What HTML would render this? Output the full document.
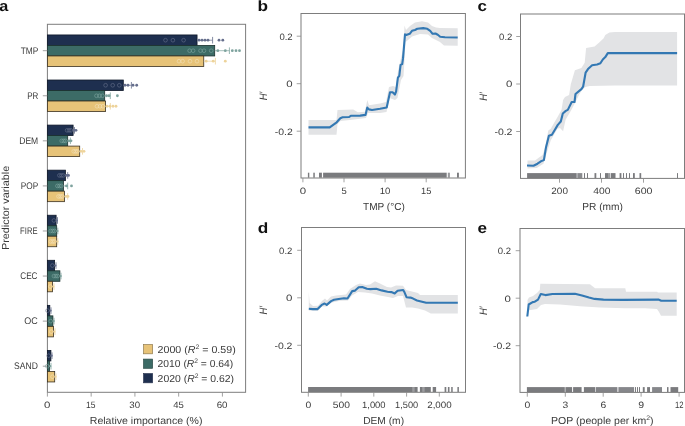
<!DOCTYPE html>
<html><head><meta charset="utf-8"><style>
html,body{margin:0;padding:0;background:#fff;}
svg{display:block;font-family:"Liberation Sans", sans-serif;will-change:transform;text-rendering:geometricPrecision;}
</style></head><body>
<svg width="685" height="426" viewBox="0 0 685 426">
<rect width="685" height="426" fill="#fff"/>
<rect x="47.4" y="24.3" width="198.20" height="368.00" fill="none" stroke="#7d7d7d" stroke-width="1"/>
<rect x="47.40" y="34.95" width="149.65" height="10.50" fill="#1e2f4f" stroke="#0f1829" stroke-width="0.8"/>
<rect x="47.40" y="45.45" width="167.30" height="10.50" fill="#3c6b66" stroke="#1a302d" stroke-width="0.8"/>
<rect x="47.40" y="55.95" width="156.35" height="10.50" fill="#e7c378" stroke="#3a3020" stroke-width="0.8"/>
<line x1="42.80" y1="50.70" x2="47.40" y2="50.70" stroke="#8a8a8a" stroke-width="0.8"/>
<text x="20.73" y="53.80" font-size="9.6" fill="#3a3a3a" textLength="17.59" lengthAdjust="spacingAndGlyphs">TMP</text>
<rect x="47.40" y="80.02" width="75.90" height="10.50" fill="#1e2f4f" stroke="#0f1829" stroke-width="0.8"/>
<rect x="47.40" y="90.52" width="57.30" height="10.50" fill="#3c6b66" stroke="#1a302d" stroke-width="0.8"/>
<rect x="47.40" y="101.02" width="58.20" height="10.50" fill="#e7c378" stroke="#3a3020" stroke-width="0.8"/>
<line x1="42.80" y1="95.77" x2="47.40" y2="95.77" stroke="#8a8a8a" stroke-width="0.8"/>
<text x="27.16" y="98.87" font-size="9.6" fill="#3a3a3a" textLength="11.14" lengthAdjust="spacingAndGlyphs">PR</text>
<rect x="47.40" y="125.09" width="25.70" height="10.50" fill="#1e2f4f" stroke="#0f1829" stroke-width="0.8"/>
<rect x="47.40" y="135.59" width="20.30" height="10.50" fill="#3c6b66" stroke="#1a302d" stroke-width="0.8"/>
<rect x="47.40" y="146.09" width="32.30" height="10.50" fill="#e7c378" stroke="#3a3020" stroke-width="0.8"/>
<line x1="42.80" y1="140.84" x2="47.40" y2="140.84" stroke="#8a8a8a" stroke-width="0.8"/>
<text x="19.22" y="143.94" font-size="9.6" fill="#3a3a3a" textLength="18.99" lengthAdjust="spacingAndGlyphs">DEM</text>
<rect x="47.40" y="170.16" width="18.00" height="10.50" fill="#1e2f4f" stroke="#0f1829" stroke-width="0.8"/>
<rect x="47.40" y="180.66" width="16.00" height="10.50" fill="#3c6b66" stroke="#1a302d" stroke-width="0.8"/>
<rect x="47.40" y="191.16" width="17.10" height="10.50" fill="#e7c378" stroke="#3a3020" stroke-width="0.8"/>
<line x1="42.80" y1="185.91" x2="47.40" y2="185.91" stroke="#8a8a8a" stroke-width="0.8"/>
<text x="20.84" y="189.01" font-size="9.6" fill="#3a3a3a" textLength="17.49" lengthAdjust="spacingAndGlyphs">POP</text>
<rect x="47.40" y="215.23" width="8.70" height="10.50" fill="#1e2f4f" stroke="#0f1829" stroke-width="0.8"/>
<rect x="47.40" y="225.73" width="9.30" height="10.50" fill="#3c6b66" stroke="#1a302d" stroke-width="0.8"/>
<rect x="47.40" y="236.23" width="9.30" height="10.50" fill="#e7c378" stroke="#3a3020" stroke-width="0.8"/>
<line x1="42.80" y1="230.98" x2="47.40" y2="230.98" stroke="#8a8a8a" stroke-width="0.8"/>
<text x="20.09" y="234.08" font-size="9.6" fill="#3a3a3a" textLength="17.44" lengthAdjust="spacingAndGlyphs">FIRE</text>
<rect x="47.40" y="260.30" width="7.20" height="10.50" fill="#1e2f4f" stroke="#0f1829" stroke-width="0.8"/>
<rect x="47.40" y="270.80" width="12.50" height="10.50" fill="#3c6b66" stroke="#1a302d" stroke-width="0.8"/>
<rect x="47.40" y="281.30" width="5.10" height="10.50" fill="#e7c378" stroke="#3a3020" stroke-width="0.8"/>
<line x1="42.80" y1="276.05" x2="47.40" y2="276.05" stroke="#8a8a8a" stroke-width="0.8"/>
<text x="20.29" y="279.15" font-size="9.6" fill="#3a3a3a" textLength="17.20" lengthAdjust="spacingAndGlyphs">CEC</text>
<rect x="47.40" y="305.37" width="2.40" height="10.50" fill="#1e2f4f" stroke="#0f1829" stroke-width="0.8"/>
<rect x="47.40" y="315.87" width="5.50" height="10.50" fill="#3c6b66" stroke="#1a302d" stroke-width="0.8"/>
<rect x="47.40" y="326.37" width="6.10" height="10.50" fill="#e7c378" stroke="#3a3020" stroke-width="0.8"/>
<line x1="42.80" y1="321.12" x2="47.40" y2="321.12" stroke="#8a8a8a" stroke-width="0.8"/>
<text x="24.29" y="324.22" font-size="9.6" fill="#3a3a3a" textLength="13.52" lengthAdjust="spacingAndGlyphs">OC</text>
<rect x="47.40" y="350.44" width="3.50" height="10.50" fill="#1e2f4f" stroke="#0f1829" stroke-width="0.8"/>
<rect x="47.40" y="360.94" width="2.00" height="10.50" fill="#3c6b66" stroke="#1a302d" stroke-width="0.8"/>
<rect x="47.40" y="371.44" width="7.30" height="10.50" fill="#e7c378" stroke="#3a3020" stroke-width="0.8"/>
<line x1="42.80" y1="366.19" x2="47.40" y2="366.19" stroke="#8a8a8a" stroke-width="0.8"/>
<text x="14.11" y="369.29" font-size="9.6" fill="#3a3a3a" textLength="23.80" lengthAdjust="spacingAndGlyphs">SAND</text>
<line x1="197.05" y1="40.20" x2="212.60" y2="40.20" stroke="#656e8c" stroke-width="0.7"/>
<line x1="212.60" y1="36.90" x2="212.60" y2="43.50" stroke="#656e8c" stroke-width="0.8"/>
<circle cx="165.50" cy="40.20" r="1.85" fill="none" stroke="#66718b" stroke-width="0.6"/>
<circle cx="172.90" cy="40.20" r="1.85" fill="none" stroke="#66718b" stroke-width="0.6"/>
<circle cx="183.60" cy="40.20" r="1.85" fill="none" stroke="#66718b" stroke-width="0.6"/>
<circle cx="199.00" cy="40.20" r="1.4" fill="#656e8c"/>
<circle cx="202.00" cy="40.20" r="1.4" fill="#656e8c"/>
<circle cx="205.00" cy="40.20" r="1.4" fill="#656e8c"/>
<circle cx="208.00" cy="40.20" r="1.4" fill="#656e8c"/>
<circle cx="219.00" cy="40.20" r="1.4" fill="#656e8c"/>
<circle cx="222.80" cy="40.20" r="1.4" fill="#656e8c"/>
<line x1="214.70" y1="50.70" x2="229.40" y2="50.70" stroke="#7ea39e" stroke-width="0.7"/>
<line x1="229.40" y1="47.40" x2="229.40" y2="54.00" stroke="#7ea39e" stroke-width="0.8"/>
<circle cx="189.60" cy="50.70" r="1.85" fill="none" stroke="#7ea59f" stroke-width="0.6"/>
<circle cx="193.10" cy="50.70" r="1.85" fill="none" stroke="#7ea59f" stroke-width="0.6"/>
<circle cx="200.50" cy="50.70" r="1.85" fill="none" stroke="#7ea59f" stroke-width="0.6"/>
<circle cx="204.00" cy="50.70" r="1.85" fill="none" stroke="#7ea59f" stroke-width="0.6"/>
<circle cx="211.20" cy="50.70" r="1.85" fill="none" stroke="#7ea59f" stroke-width="0.6"/>
<circle cx="217.80" cy="50.70" r="1.4" fill="#7ea39e"/>
<circle cx="225.30" cy="50.70" r="1.4" fill="#7ea39e"/>
<circle cx="232.30" cy="50.70" r="1.4" fill="#7ea39e"/>
<circle cx="236.00" cy="50.70" r="1.4" fill="#7ea39e"/>
<circle cx="239.50" cy="50.70" r="1.4" fill="#7ea39e"/>
<line x1="203.75" y1="61.20" x2="215.40" y2="61.20" stroke="#edd39a" stroke-width="0.7"/>
<line x1="215.40" y1="57.90" x2="215.40" y2="64.50" stroke="#edd39a" stroke-width="0.8"/>
<circle cx="179.00" cy="61.20" r="1.85" fill="none" stroke="#f3e0b8" stroke-width="0.6"/>
<circle cx="182.60" cy="61.20" r="1.85" fill="none" stroke="#f3e0b8" stroke-width="0.6"/>
<circle cx="190.00" cy="61.20" r="1.85" fill="none" stroke="#f3e0b8" stroke-width="0.6"/>
<circle cx="197.00" cy="61.20" r="1.85" fill="none" stroke="#f3e0b8" stroke-width="0.6"/>
<circle cx="206.20" cy="61.20" r="1.4" fill="#edd39a"/>
<circle cx="213.20" cy="61.20" r="1.4" fill="#edd39a"/>
<circle cx="225.30" cy="61.20" r="1.4" fill="#edd39a"/>
<line x1="123.30" y1="85.27" x2="131.40" y2="85.27" stroke="#656e8c" stroke-width="0.7"/>
<line x1="131.40" y1="81.97" x2="131.40" y2="88.57" stroke="#656e8c" stroke-width="0.8"/>
<circle cx="105.60" cy="85.27" r="1.85" fill="none" stroke="#66718b" stroke-width="0.6"/>
<circle cx="112.70" cy="85.27" r="1.85" fill="none" stroke="#66718b" stroke-width="0.6"/>
<circle cx="119.30" cy="85.27" r="1.85" fill="none" stroke="#66718b" stroke-width="0.6"/>
<circle cx="125.00" cy="85.27" r="1.4" fill="#656e8c"/>
<circle cx="128.00" cy="85.27" r="1.4" fill="#656e8c"/>
<circle cx="133.00" cy="85.27" r="1.4" fill="#656e8c"/>
<circle cx="136.70" cy="85.27" r="1.4" fill="#656e8c"/>
<line x1="104.70" y1="95.77" x2="110.30" y2="95.77" stroke="#7ea39e" stroke-width="0.7"/>
<line x1="110.30" y1="92.47" x2="110.30" y2="99.07" stroke="#7ea39e" stroke-width="0.8"/>
<circle cx="96.50" cy="95.77" r="1.85" fill="none" stroke="#7ea59f" stroke-width="0.6"/>
<circle cx="99.50" cy="95.77" r="1.85" fill="none" stroke="#7ea59f" stroke-width="0.6"/>
<circle cx="102.50" cy="95.77" r="1.85" fill="none" stroke="#7ea59f" stroke-width="0.6"/>
<circle cx="106.50" cy="95.77" r="1.4" fill="#7ea39e"/>
<circle cx="109.00" cy="95.77" r="1.4" fill="#7ea39e"/>
<circle cx="117.40" cy="95.77" r="1.4" fill="#7ea39e"/>
<line x1="105.60" y1="106.27" x2="110.30" y2="106.27" stroke="#edd39a" stroke-width="0.7"/>
<line x1="110.30" y1="102.97" x2="110.30" y2="109.57" stroke="#edd39a" stroke-width="0.8"/>
<circle cx="97.00" cy="106.27" r="1.85" fill="none" stroke="#f3e0b8" stroke-width="0.6"/>
<circle cx="100.00" cy="106.27" r="1.85" fill="none" stroke="#f3e0b8" stroke-width="0.6"/>
<circle cx="103.00" cy="106.27" r="1.85" fill="none" stroke="#f3e0b8" stroke-width="0.6"/>
<circle cx="107.00" cy="106.27" r="1.4" fill="#edd39a"/>
<circle cx="110.00" cy="106.27" r="1.4" fill="#edd39a"/>
<circle cx="113.00" cy="106.27" r="1.4" fill="#edd39a"/>
<circle cx="116.00" cy="106.27" r="1.4" fill="#edd39a"/>
<line x1="73.10" y1="130.34" x2="74.50" y2="130.34" stroke="#656e8c" stroke-width="0.7"/>
<line x1="74.50" y1="127.04" x2="74.50" y2="133.64" stroke="#656e8c" stroke-width="0.8"/>
<circle cx="67.10" cy="130.34" r="1.85" fill="none" stroke="#66718b" stroke-width="0.6"/>
<circle cx="69.10" cy="130.34" r="1.85" fill="none" stroke="#66718b" stroke-width="0.6"/>
<circle cx="70.90" cy="130.34" r="1.85" fill="none" stroke="#66718b" stroke-width="0.6"/>
<circle cx="74.00" cy="130.34" r="1.4" fill="#656e8c"/>
<circle cx="76.00" cy="130.34" r="1.4" fill="#656e8c"/>
<line x1="67.70" y1="140.84" x2="70.40" y2="140.84" stroke="#7ea39e" stroke-width="0.7"/>
<line x1="70.40" y1="137.54" x2="70.40" y2="144.14" stroke="#7ea39e" stroke-width="0.8"/>
<circle cx="61.70" cy="140.84" r="1.85" fill="none" stroke="#7ea59f" stroke-width="0.6"/>
<circle cx="63.70" cy="140.84" r="1.85" fill="none" stroke="#7ea59f" stroke-width="0.6"/>
<circle cx="65.50" cy="140.84" r="1.85" fill="none" stroke="#7ea59f" stroke-width="0.6"/>
<circle cx="69.00" cy="140.84" r="1.4" fill="#7ea39e"/>
<circle cx="71.00" cy="140.84" r="1.4" fill="#7ea39e"/>
<line x1="79.70" y1="151.34" x2="82.50" y2="151.34" stroke="#edd39a" stroke-width="0.7"/>
<line x1="82.50" y1="148.04" x2="82.50" y2="154.64" stroke="#edd39a" stroke-width="0.8"/>
<circle cx="73.70" cy="151.34" r="1.85" fill="none" stroke="#f3e0b8" stroke-width="0.6"/>
<circle cx="75.70" cy="151.34" r="1.85" fill="none" stroke="#f3e0b8" stroke-width="0.6"/>
<circle cx="77.50" cy="151.34" r="1.85" fill="none" stroke="#f3e0b8" stroke-width="0.6"/>
<circle cx="81.00" cy="151.34" r="1.4" fill="#edd39a"/>
<circle cx="84.00" cy="151.34" r="1.4" fill="#edd39a"/>
<line x1="65.40" y1="175.41" x2="67.70" y2="175.41" stroke="#656e8c" stroke-width="0.7"/>
<line x1="67.70" y1="172.11" x2="67.70" y2="178.71" stroke="#656e8c" stroke-width="0.8"/>
<circle cx="59.40" cy="175.41" r="1.85" fill="none" stroke="#66718b" stroke-width="0.6"/>
<circle cx="61.40" cy="175.41" r="1.85" fill="none" stroke="#66718b" stroke-width="0.6"/>
<circle cx="63.20" cy="175.41" r="1.85" fill="none" stroke="#66718b" stroke-width="0.6"/>
<circle cx="66.50" cy="175.41" r="1.4" fill="#656e8c"/>
<circle cx="68.50" cy="175.41" r="1.4" fill="#656e8c"/>
<line x1="63.40" y1="185.91" x2="67.70" y2="185.91" stroke="#7ea39e" stroke-width="0.7"/>
<line x1="67.70" y1="182.61" x2="67.70" y2="189.21" stroke="#7ea39e" stroke-width="0.8"/>
<circle cx="57.40" cy="185.91" r="1.85" fill="none" stroke="#7ea59f" stroke-width="0.6"/>
<circle cx="59.40" cy="185.91" r="1.85" fill="none" stroke="#7ea59f" stroke-width="0.6"/>
<circle cx="61.20" cy="185.91" r="1.85" fill="none" stroke="#7ea59f" stroke-width="0.6"/>
<circle cx="66.50" cy="185.91" r="1.4" fill="#7ea39e"/>
<circle cx="71.50" cy="185.91" r="1.4" fill="#7ea39e"/>
<line x1="64.50" y1="196.41" x2="67.70" y2="196.41" stroke="#edd39a" stroke-width="0.7"/>
<line x1="67.70" y1="193.11" x2="67.70" y2="199.71" stroke="#edd39a" stroke-width="0.8"/>
<circle cx="58.50" cy="196.41" r="1.85" fill="none" stroke="#f3e0b8" stroke-width="0.6"/>
<circle cx="60.50" cy="196.41" r="1.85" fill="none" stroke="#f3e0b8" stroke-width="0.6"/>
<circle cx="62.30" cy="196.41" r="1.85" fill="none" stroke="#f3e0b8" stroke-width="0.6"/>
<circle cx="66.00" cy="196.41" r="1.4" fill="#edd39a"/>
<circle cx="68.00" cy="196.41" r="1.4" fill="#edd39a"/>
<line x1="56.10" y1="220.48" x2="57.50" y2="220.48" stroke="#656e8c" stroke-width="0.7"/>
<line x1="57.50" y1="217.18" x2="57.50" y2="223.78" stroke="#656e8c" stroke-width="0.8"/>
<circle cx="53.90" cy="220.48" r="1.85" fill="none" stroke="#66718b" stroke-width="0.6"/>
<circle cx="56.90" cy="220.48" r="1.1" fill="#656e8c"/>
<line x1="56.70" y1="230.98" x2="57.80" y2="230.98" stroke="#7ea39e" stroke-width="0.7"/>
<line x1="57.80" y1="227.68" x2="57.80" y2="234.28" stroke="#7ea39e" stroke-width="0.8"/>
<circle cx="50.70" cy="230.98" r="1.85" fill="none" stroke="#7ea59f" stroke-width="0.6"/>
<circle cx="52.70" cy="230.98" r="1.85" fill="none" stroke="#7ea59f" stroke-width="0.6"/>
<circle cx="54.50" cy="230.98" r="1.85" fill="none" stroke="#7ea59f" stroke-width="0.6"/>
<circle cx="57.50" cy="230.98" r="1.1" fill="#7ea39e"/>
<line x1="56.70" y1="241.48" x2="57.80" y2="241.48" stroke="#edd39a" stroke-width="0.7"/>
<line x1="57.80" y1="238.18" x2="57.80" y2="244.78" stroke="#edd39a" stroke-width="0.8"/>
<circle cx="50.70" cy="241.48" r="1.85" fill="none" stroke="#f3e0b8" stroke-width="0.6"/>
<circle cx="52.70" cy="241.48" r="1.85" fill="none" stroke="#f3e0b8" stroke-width="0.6"/>
<circle cx="54.50" cy="241.48" r="1.85" fill="none" stroke="#f3e0b8" stroke-width="0.6"/>
<circle cx="57.50" cy="241.48" r="1.1" fill="#edd39a"/>
<line x1="54.60" y1="265.55" x2="56.00" y2="265.55" stroke="#656e8c" stroke-width="0.7"/>
<line x1="56.00" y1="262.25" x2="56.00" y2="268.85" stroke="#656e8c" stroke-width="0.8"/>
<circle cx="52.40" cy="265.55" r="1.85" fill="none" stroke="#66718b" stroke-width="0.6"/>
<circle cx="55.40" cy="265.55" r="1.1" fill="#656e8c"/>
<line x1="59.90" y1="276.05" x2="61.00" y2="276.05" stroke="#7ea39e" stroke-width="0.7"/>
<line x1="61.00" y1="272.75" x2="61.00" y2="279.35" stroke="#7ea39e" stroke-width="0.8"/>
<circle cx="53.90" cy="276.05" r="1.85" fill="none" stroke="#7ea59f" stroke-width="0.6"/>
<circle cx="55.90" cy="276.05" r="1.85" fill="none" stroke="#7ea59f" stroke-width="0.6"/>
<circle cx="57.70" cy="276.05" r="1.85" fill="none" stroke="#7ea59f" stroke-width="0.6"/>
<circle cx="60.70" cy="276.05" r="1.1" fill="#7ea39e"/>
<line x1="52.50" y1="286.55" x2="54.00" y2="286.55" stroke="#edd39a" stroke-width="0.7"/>
<line x1="54.00" y1="283.25" x2="54.00" y2="289.85" stroke="#edd39a" stroke-width="0.8"/>
<circle cx="50.30" cy="286.55" r="1.85" fill="none" stroke="#f3e0b8" stroke-width="0.6"/>
<circle cx="53.30" cy="286.55" r="1.1" fill="#edd39a"/>
<line x1="49.80" y1="310.62" x2="51.00" y2="310.62" stroke="#656e8c" stroke-width="0.7"/>
<line x1="51.00" y1="307.32" x2="51.00" y2="313.92" stroke="#656e8c" stroke-width="0.8"/>
<circle cx="47.60" cy="310.62" r="1.85" fill="none" stroke="#66718b" stroke-width="0.6"/>
<circle cx="50.60" cy="310.62" r="1.1" fill="#656e8c"/>
<line x1="52.90" y1="321.12" x2="54.00" y2="321.12" stroke="#7ea39e" stroke-width="0.7"/>
<line x1="54.00" y1="317.82" x2="54.00" y2="324.42" stroke="#7ea39e" stroke-width="0.8"/>
<circle cx="50.70" cy="321.12" r="1.85" fill="none" stroke="#7ea59f" stroke-width="0.6"/>
<circle cx="53.70" cy="321.12" r="1.1" fill="#7ea39e"/>
<line x1="53.50" y1="331.62" x2="55.00" y2="331.62" stroke="#edd39a" stroke-width="0.7"/>
<line x1="55.00" y1="328.32" x2="55.00" y2="334.92" stroke="#edd39a" stroke-width="0.8"/>
<circle cx="51.30" cy="331.62" r="1.85" fill="none" stroke="#f3e0b8" stroke-width="0.6"/>
<circle cx="54.30" cy="331.62" r="1.1" fill="#edd39a"/>
<line x1="50.90" y1="355.69" x2="52.00" y2="355.69" stroke="#656e8c" stroke-width="0.7"/>
<line x1="52.00" y1="352.39" x2="52.00" y2="358.99" stroke="#656e8c" stroke-width="0.8"/>
<circle cx="48.70" cy="355.69" r="1.85" fill="none" stroke="#66718b" stroke-width="0.6"/>
<circle cx="51.70" cy="355.69" r="1.1" fill="#656e8c"/>
<line x1="49.40" y1="366.19" x2="51.00" y2="366.19" stroke="#7ea39e" stroke-width="0.7"/>
<line x1="51.00" y1="362.89" x2="51.00" y2="369.49" stroke="#7ea39e" stroke-width="0.8"/>
<circle cx="47.20" cy="366.19" r="1.85" fill="none" stroke="#7ea59f" stroke-width="0.6"/>
<circle cx="50.20" cy="366.19" r="1.1" fill="#7ea39e"/>
<line x1="54.70" y1="376.69" x2="56.00" y2="376.69" stroke="#edd39a" stroke-width="0.7"/>
<line x1="56.00" y1="373.39" x2="56.00" y2="379.99" stroke="#edd39a" stroke-width="0.8"/>
<circle cx="52.50" cy="376.69" r="1.85" fill="none" stroke="#f3e0b8" stroke-width="0.6"/>
<circle cx="55.50" cy="376.69" r="1.1" fill="#edd39a"/>
<line x1="47.40" y1="392.30" x2="47.40" y2="396.60" stroke="#8a8a8a" stroke-width="0.8"/>
<text x="43.94" y="408.40" font-size="9.2" fill="#3a3a3a" textLength="6.37" lengthAdjust="spacingAndGlyphs">0</text>
<line x1="91.16" y1="392.30" x2="91.16" y2="396.60" stroke="#8a8a8a" stroke-width="0.8"/>
<text x="86.01" y="408.40" font-size="9.2" fill="#3a3a3a" textLength="9.50" lengthAdjust="spacingAndGlyphs">15</text>
<line x1="134.91" y1="392.30" x2="134.91" y2="396.60" stroke="#8a8a8a" stroke-width="0.8"/>
<text x="129.27" y="408.40" font-size="9.2" fill="#3a3a3a" textLength="10.75" lengthAdjust="spacingAndGlyphs">30</text>
<line x1="178.66" y1="392.30" x2="178.66" y2="396.60" stroke="#8a8a8a" stroke-width="0.8"/>
<text x="173.22" y="408.40" font-size="9.2" fill="#3a3a3a" textLength="10.59" lengthAdjust="spacingAndGlyphs">45</text>
<line x1="222.42" y1="392.30" x2="222.42" y2="396.60" stroke="#8a8a8a" stroke-width="0.8"/>
<text x="216.68" y="408.40" font-size="9.2" fill="#3a3a3a" textLength="10.85" lengthAdjust="spacingAndGlyphs">60</text>
<text x="89.76" y="424.00" font-size="10.2" fill="#3a3a3a" textLength="112.69" lengthAdjust="spacingAndGlyphs">Relative importance (%)</text>
<g transform="rotate(-90)">
<text x="-250.07" y="9.00" font-size="10.2" fill="#3a3a3a" textLength="84.27" lengthAdjust="spacingAndGlyphs">Predictor variable</text>
</g>
<text x="-0.79" y="11.00" font-size="15" fill="#111" font-weight="bold" textLength="9.04" lengthAdjust="spacingAndGlyphs">a</text>
<rect x="143.60" y="344.60" width="9.00" height="9.20" fill="#e7c378" stroke="#8f7a4e" stroke-width="0.7"/>
<text x="0" y="0" font-size="10.2" fill="#3a3a3a" transform="translate(157.6,352.70) scale(1.045,1)">2000 (<tspan font-style="italic">R</tspan><tspan font-size="6.6" dy="-3.9">2</tspan><tspan dy="3.9"> = 0.59)</tspan></text>
<rect x="143.60" y="359.10" width="9.00" height="9.20" fill="#3c6b66" stroke="#2a4a46" stroke-width="0.7"/>
<text x="0" y="0" font-size="10.2" fill="#3a3a3a" transform="translate(157.6,367.20) scale(1.012,1)">2010 (<tspan font-style="italic">R</tspan><tspan font-size="6.6" dy="-3.9">2</tspan><tspan dy="3.9"> = 0.64)</tspan></text>
<rect x="143.60" y="373.60" width="9.00" height="9.20" fill="#1e2f4f" stroke="#2a3550" stroke-width="0.7"/>
<text x="0" y="0" font-size="10.2" fill="#3a3a3a" transform="translate(157.6,381.70) scale(1.022,1)">2020 (<tspan font-style="italic">R</tspan><tspan font-size="6.6" dy="-3.9">2</tspan><tspan dy="3.9"> = 0.62)</tspan></text>
<polygon points="308.50,119.90 336.50,119.90 337.50,110.00 353.20,109.40 357.90,112.30 364.90,111.70 367.30,100.00 369.00,105.30 380.00,103.50 386.00,102.00 389.00,87.00 393.00,86.00 396.00,87.00 398.00,71.00 401.00,58.00 403.50,48.00 404.50,25.60 406.00,30.00 410.00,26.00 415.00,22.50 422.00,21.30 428.00,22.50 432.00,26.00 436.00,27.50 440.00,27.90 457.70,28.20 457.70,45.80 444.00,45.50 440.00,42.00 436.00,40.00 432.00,38.00 428.00,34.50 420.00,34.00 412.00,36.50 408.00,40.00 405.50,42.00 404.50,60.00 403.50,76.00 401.00,80.00 399.00,90.00 397.50,98.00 395.00,100.00 389.50,98.00 386.50,112.00 380.00,113.00 368.00,113.00 366.00,118.00 350.00,120.00 340.50,121.00 337.50,124.00 336.50,134.70 308.50,134.70" fill="#e2e3e5"/>
<rect x="307.90" y="172.70" width="1.40" height="5.00" fill="#7a7b7e"/>
<rect x="313.30" y="172.70" width="1.50" height="5.00" fill="#7a7b7e"/>
<rect x="319.00" y="172.70" width="2.90" height="5.00" fill="#7a7b7e"/>
<rect x="323.10" y="172.70" width="123.60" height="5.00" fill="#7a7b7e"/>
<rect x="447.80" y="172.70" width="2.10" height="5.00" fill="#9a9b9e"/>
<rect x="457.00" y="172.70" width="1.90" height="5.00" fill="#7a7b7e"/>
<rect x="301" y="13.5" width="164.40" height="164.50" fill="none" stroke="#7d7d7d" stroke-width="1"/>
<polyline points="308.50,127.40 329.70,127.40 336.70,122.30 340.30,118.20 342.60,117.30 349.10,117.00 350.80,115.80 360.20,115.60 365.50,114.90 367.30,107.60 369.00,109.40 372.00,110.00 380.00,108.80 386.70,107.50 390.00,92.30 392.60,92.30 394.90,94.60 396.10,91.70 397.90,77.60 399.30,75.80 400.60,64.90 402.20,64.10 403.00,58.40 405.00,34.40 406.20,35.00 409.70,33.80 412.00,30.80 415.00,30.00 417.30,28.80 423.20,28.10 427.30,28.80 430.20,30.80 432.60,33.80 435.50,33.50 437.80,34.70 440.20,36.70 445.00,37.30 457.70,37.50" fill="none" stroke="#3378b3" stroke-width="2.1" stroke-linejoin="round"/>
<line x1="296.70" y1="36.20" x2="301.00" y2="36.20" stroke="#8a8a8a" stroke-width="0.8"/>
<text x="279.42" y="39.60" font-size="9.2" fill="#3a3a3a" textLength="13.26" lengthAdjust="spacingAndGlyphs">0.2</text>
<line x1="296.70" y1="83.70" x2="301.00" y2="83.70" stroke="#8a8a8a" stroke-width="0.8"/>
<text x="286.24" y="87.10" font-size="9.2" fill="#3a3a3a" textLength="6.37" lengthAdjust="spacingAndGlyphs">0</text>
<line x1="296.70" y1="131.20" x2="301.00" y2="131.20" stroke="#8a8a8a" stroke-width="0.8"/>
<text x="274.73" y="134.60" font-size="9.2" fill="#3a3a3a" textLength="18.03" lengthAdjust="spacingAndGlyphs">-0.2</text>
<line x1="302.90" y1="178.00" x2="302.90" y2="182.30" stroke="#8a8a8a" stroke-width="0.8"/>
<text x="299.89" y="194.00" font-size="9.2" fill="#3a3a3a" textLength="6.37" lengthAdjust="spacingAndGlyphs">0</text>
<line x1="344.00" y1="178.00" x2="344.00" y2="182.30" stroke="#8a8a8a" stroke-width="0.8"/>
<text x="341.57" y="194.00" font-size="9.2" fill="#3a3a3a" textLength="5.27" lengthAdjust="spacingAndGlyphs">5</text>
<line x1="385.10" y1="178.00" x2="385.10" y2="182.30" stroke="#8a8a8a" stroke-width="0.8"/>
<text x="379.78" y="194.00" font-size="9.2" fill="#3a3a3a" textLength="10.68" lengthAdjust="spacingAndGlyphs">10</text>
<line x1="426.20" y1="178.00" x2="426.20" y2="182.30" stroke="#8a8a8a" stroke-width="0.8"/>
<text x="421.11" y="194.00" font-size="9.2" fill="#3a3a3a" textLength="10.28" lengthAdjust="spacingAndGlyphs">15</text>
<text x="363.00" y="209.60" font-size="10.2" fill="#3a3a3a" textLength="41.74" lengthAdjust="spacingAndGlyphs">TMP (°C)</text>
<g transform="rotate(-90)">
<text x="-100.34" y="266.80" font-size="10.8" fill="#3a3a3a" font-style="italic" textLength="8.64" lengthAdjust="spacingAndGlyphs">H′</text>
</g>
<text x="257.58" y="10.70" font-size="15" fill="#111" font-weight="bold" textLength="10.52" lengthAdjust="spacingAndGlyphs">b</text>
<polygon points="527.50,160.50 535.00,160.50 540.10,156.70 542.60,155.10 545.00,147.70 548.30,130.40 550.80,128.80 554.90,121.40 557.40,117.30 561.50,109.90 563.10,100.00 565.00,97.00 569.10,95.00 570.80,84.20 574.90,70.20 581.40,68.10 584.70,62.80 586.10,48.00 594.60,46.40 599.50,42.30 603.70,38.20 605.30,34.90 609.40,32.40 615.00,31.90 677.10,31.90 677.10,85.60 615.00,85.60 589.70,85.90 586.40,86.70 584.70,87.50 581.40,90.80 579.00,95.00 576.00,101.00 571.30,109.90 565.60,119.70 563.10,131.20 560.00,128.00 557.40,128.80 550.80,140.30 546.70,153.00 543.40,163.80 536.80,168.00 527.50,168.50" fill="#e2e3e5"/>
<rect x="527.10" y="173.10" width="48.90" height="5.00" fill="#7a7b7e"/>
<rect x="576.00" y="173.10" width="1.60" height="5.00" fill="#a0a1a4"/>
<rect x="577.60" y="173.10" width="4.70" height="5.00" fill="#8a8b8e"/>
<rect x="584.00" y="173.10" width="1.00" height="5.00" fill="#7a7b7e"/>
<rect x="587.00" y="173.10" width="1.00" height="5.00" fill="#7a7b7e"/>
<rect x="594.50" y="173.10" width="1.80" height="5.00" fill="#7a7b7e"/>
<rect x="600.00" y="173.10" width="1.00" height="5.00" fill="#7a7b7e"/>
<rect x="605.00" y="173.10" width="3.00" height="5.00" fill="#7a7b7e"/>
<rect x="608.00" y="173.10" width="2.30" height="5.00" fill="#9c9da0"/>
<rect x="610.90" y="173.10" width="4.60" height="5.00" fill="#7a7b7e"/>
<rect x="619.60" y="173.10" width="1.80" height="5.00" fill="#7a7b7e"/>
<rect x="623.00" y="173.10" width="1.00" height="5.00" fill="#7a7b7e"/>
<rect x="626.00" y="173.10" width="1.00" height="5.00" fill="#7a7b7e"/>
<rect x="629.00" y="173.10" width="1.00" height="5.00" fill="#7a7b7e"/>
<rect x="633.00" y="173.10" width="1.80" height="5.00" fill="#7a7b7e"/>
<rect x="639.50" y="173.10" width="1.70" height="5.00" fill="#7a7b7e"/>
<rect x="677.00" y="173.10" width="1.00" height="5.00" fill="#7a7b7e"/>
<rect x="520.5" y="14" width="164.00" height="164.40" fill="none" stroke="#7d7d7d" stroke-width="1"/>
<polyline points="527.00,165.50 533.50,165.70 537.50,163.70 540.90,161.30 543.90,160.10 545.90,147.80 548.90,135.80 551.90,134.80 554.90,129.80 557.80,124.90 560.80,121.50 562.80,113.50 565.80,110.90 567.80,109.90 571.70,102.00 574.50,102.00 575.50,94.00 581.40,89.10 583.10,86.70 585.60,72.70 588.00,69.10 592.10,65.30 597.10,64.50 600.40,63.20 602.80,59.50 605.30,57.10 607.80,53.10 677.10,53.10" fill="none" stroke="#3378b3" stroke-width="2.1" stroke-linejoin="round"/>
<line x1="516.20" y1="36.50" x2="520.50" y2="36.50" stroke="#8a8a8a" stroke-width="0.8"/>
<text x="499.12" y="39.90" font-size="9.2" fill="#3a3a3a" textLength="13.26" lengthAdjust="spacingAndGlyphs">0.2</text>
<line x1="516.20" y1="84.00" x2="520.50" y2="84.00" stroke="#8a8a8a" stroke-width="0.8"/>
<text x="505.94" y="87.40" font-size="9.2" fill="#3a3a3a" textLength="6.37" lengthAdjust="spacingAndGlyphs">0</text>
<line x1="516.20" y1="131.50" x2="520.50" y2="131.50" stroke="#8a8a8a" stroke-width="0.8"/>
<text x="494.43" y="134.90" font-size="9.2" fill="#3a3a3a" textLength="18.03" lengthAdjust="spacingAndGlyphs">-0.2</text>
<line x1="559.50" y1="178.40" x2="559.50" y2="182.70" stroke="#8a8a8a" stroke-width="0.8"/>
<text x="551.35" y="194.40" font-size="9.2" fill="#3a3a3a" textLength="16.58" lengthAdjust="spacingAndGlyphs">200</text>
<line x1="601.50" y1="178.40" x2="601.50" y2="182.70" stroke="#8a8a8a" stroke-width="0.8"/>
<text x="593.19" y="194.40" font-size="9.2" fill="#3a3a3a" textLength="17.20" lengthAdjust="spacingAndGlyphs">400</text>
<line x1="643.50" y1="178.40" x2="643.50" y2="182.70" stroke="#8a8a8a" stroke-width="0.8"/>
<text x="634.82" y="194.40" font-size="9.2" fill="#3a3a3a" textLength="17.64" lengthAdjust="spacingAndGlyphs">600</text>
<text x="582.19" y="209.70" font-size="10.2" fill="#3a3a3a" textLength="40.67" lengthAdjust="spacingAndGlyphs">PR (mm)</text>
<g transform="rotate(-90)">
<text x="-100.79" y="486.90" font-size="10.8" fill="#3a3a3a" font-style="italic" textLength="8.64" lengthAdjust="spacingAndGlyphs">H′</text>
</g>
<text x="477.52" y="10.90" font-size="15" fill="#111" font-weight="bold" textLength="9.40" lengthAdjust="spacingAndGlyphs">c</text>
<polygon points="308.80,291.70 309.60,303.00 313.00,306.00 318.00,305.80 322.00,301.00 325.00,298.50 327.00,300.50 331.00,296.50 336.00,295.50 346.00,294.50 350.00,289.00 356.00,285.00 360.00,283.50 366.00,285.00 370.00,284.50 375.00,281.20 380.00,283.50 387.00,287.00 391.00,287.50 396.00,285.50 403.00,285.80 406.00,290.00 410.00,291.00 418.00,293.00 420.00,295.00 457.80,295.00 457.80,313.40 430.80,313.40 425.00,310.50 418.00,308.50 412.00,307.50 406.00,307.40 403.00,296.00 398.00,296.00 393.00,298.00 388.00,297.00 380.00,295.50 372.00,293.50 365.00,292.50 358.00,292.00 352.00,295.50 348.00,300.50 340.00,300.80 331.00,302.80 327.00,306.50 322.00,306.50 318.00,310.80 313.00,310.80 308.80,310.50" fill="#e2e3e5"/>
<rect x="308.10" y="387.00" width="104.70" height="5.00" fill="#7a7b7e"/>
<rect x="412.80" y="387.00" width="1.40" height="5.00" fill="#9c9da0"/>
<rect x="414.20" y="387.00" width="3.40" height="5.00" fill="#7a7b7e"/>
<rect x="419.90" y="387.00" width="2.90" height="5.00" fill="#7a7b7e"/>
<rect x="422.80" y="387.00" width="1.40" height="5.00" fill="#9c9da0"/>
<rect x="424.20" y="387.00" width="6.60" height="5.00" fill="#7a7b7e"/>
<rect x="432.70" y="387.00" width="3.40" height="5.00" fill="#7a7b7e"/>
<rect x="444.60" y="387.00" width="1.70" height="5.00" fill="#7a7b7e"/>
<rect x="447.90" y="387.00" width="1.60" height="5.00" fill="#7a7b7e"/>
<rect x="451.20" y="387.00" width="1.50" height="5.00" fill="#7a7b7e"/>
<rect x="457.40" y="387.00" width="1.50" height="5.00" fill="#7a7b7e"/>
<rect x="301.5" y="227.5" width="164.00" height="164.80" fill="none" stroke="#7d7d7d" stroke-width="1"/>
<polyline points="308.80,308.70 312.90,309.10 317.60,309.10 321.70,304.90 324.60,303.50 326.70,304.90 331.10,301.10 334.00,299.70 338.70,299.00 344.00,298.20 347.50,298.50 352.20,291.10 355.10,290.60 358.70,287.30 362.20,287.00 366.90,288.80 370.40,289.10 376.20,288.80 381.60,290.40 387.50,291.70 391.40,292.10 394.70,293.40 397.60,290.80 403.20,290.00 404.20,291.70 406.50,297.20 410.50,297.60 413.10,298.60 417.00,300.50 421.00,301.50 426.20,302.80 457.80,302.80" fill="none" stroke="#3378b3" stroke-width="2.1" stroke-linejoin="round"/>
<line x1="297.20" y1="250.30" x2="301.50" y2="250.30" stroke="#8a8a8a" stroke-width="0.8"/>
<text x="279.12" y="253.70" font-size="9.2" fill="#3a3a3a" textLength="13.26" lengthAdjust="spacingAndGlyphs">0.2</text>
<line x1="297.20" y1="297.80" x2="301.50" y2="297.80" stroke="#8a8a8a" stroke-width="0.8"/>
<text x="285.94" y="301.20" font-size="9.2" fill="#3a3a3a" textLength="6.37" lengthAdjust="spacingAndGlyphs">0</text>
<line x1="297.20" y1="345.30" x2="301.50" y2="345.30" stroke="#8a8a8a" stroke-width="0.8"/>
<text x="274.43" y="348.70" font-size="9.2" fill="#3a3a3a" textLength="18.03" lengthAdjust="spacingAndGlyphs">-0.2</text>
<line x1="308.30" y1="392.30" x2="308.30" y2="396.60" stroke="#8a8a8a" stroke-width="0.8"/>
<text x="305.58" y="408.30" font-size="9.2" fill="#3a3a3a" textLength="5.79" lengthAdjust="spacingAndGlyphs">0</text>
<line x1="341.10" y1="392.30" x2="341.10" y2="396.60" stroke="#8a8a8a" stroke-width="0.8"/>
<text x="332.69" y="408.30" font-size="9.2" fill="#3a3a3a" textLength="17.21" lengthAdjust="spacingAndGlyphs">500</text>
<line x1="373.80" y1="392.30" x2="373.80" y2="396.60" stroke="#8a8a8a" stroke-width="0.8"/>
<text x="362.04" y="408.30" font-size="9.2" fill="#3a3a3a" textLength="23.56" lengthAdjust="spacingAndGlyphs">1,000</text>
<line x1="406.60" y1="392.30" x2="406.60" y2="396.60" stroke="#8a8a8a" stroke-width="0.8"/>
<text x="395.11" y="408.30" font-size="9.2" fill="#3a3a3a" textLength="23.04" lengthAdjust="spacingAndGlyphs">1,500</text>
<line x1="439.30" y1="392.30" x2="439.30" y2="396.60" stroke="#8a8a8a" stroke-width="0.8"/>
<text x="427.21" y="408.30" font-size="9.2" fill="#3a3a3a" textLength="24.46" lengthAdjust="spacingAndGlyphs">2,000</text>
<text x="363.18" y="423.90" font-size="10.2" fill="#3a3a3a" textLength="40.87" lengthAdjust="spacingAndGlyphs">DEM (m)</text>
<g transform="rotate(-90)">
<text x="-314.49" y="267.30" font-size="10.8" fill="#3a3a3a" font-style="italic" textLength="8.64" lengthAdjust="spacingAndGlyphs">H′</text>
</g>
<text x="257.81" y="232.70" font-size="15" fill="#111" font-weight="bold" textLength="10.52" lengthAdjust="spacingAndGlyphs">d</text>
<polygon points="527.50,300.00 529.00,297.50 533.00,296.00 537.00,293.00 539.80,290.00 540.30,283.80 590.00,284.20 595.00,288.30 625.30,288.30 626.00,291.80 657.00,291.80 658.00,292.50 676.70,292.50 676.70,315.80 661.00,315.80 659.00,312.00 657.00,309.00 645.00,308.30 625.00,308.20 600.00,307.50 580.00,306.30 560.00,304.50 545.00,303.90 541.00,305.00 537.00,309.00 529.00,310.20 527.50,312.00" fill="#e2e3e5"/>
<rect x="526.90" y="387.10" width="37.90" height="5.00" fill="#7a7b7e"/>
<rect x="565.40" y="387.10" width="6.70" height="5.00" fill="#7a7b7e"/>
<rect x="573.10" y="387.10" width="8.50" height="5.00" fill="#7a7b7e"/>
<rect x="583.90" y="387.10" width="11.30" height="5.00" fill="#7a7b7e"/>
<rect x="595.80" y="387.10" width="21.60" height="5.00" fill="#828387"/>
<rect x="618.40" y="387.10" width="15.70" height="5.00" fill="#86878b"/>
<rect x="635.00" y="387.10" width="1.00" height="5.00" fill="#7a7b7e"/>
<rect x="637.00" y="387.10" width="1.00" height="5.00" fill="#7a7b7e"/>
<rect x="639.00" y="387.10" width="1.00" height="5.00" fill="#7a7b7e"/>
<rect x="642.80" y="387.10" width="1.90" height="5.00" fill="#7a7b7e"/>
<rect x="647.10" y="387.10" width="1.90" height="5.00" fill="#7a7b7e"/>
<rect x="649.00" y="387.10" width="1.00" height="5.00" fill="#7a7b7e"/>
<rect x="652.10" y="387.10" width="9.90" height="5.00" fill="#86878b"/>
<rect x="667.00" y="387.10" width="1.50" height="5.00" fill="#7a7b7e"/>
<rect x="670.50" y="387.10" width="7.70" height="5.00" fill="#7a7b7e"/>
<rect x="520.0" y="228.5" width="164.50" height="163.90" fill="none" stroke="#7d7d7d" stroke-width="1"/>
<polyline points="527.30,316.50 528.70,304.50 532.70,302.10 534.80,301.70 538.00,299.60 540.80,294.00 545.40,295.10 552.40,294.00 574.90,293.70 582.00,295.40 589.00,297.50 594.60,298.90 603.50,299.60 623.20,299.90 658.40,299.60 661.20,300.70 676.70,300.70" fill="none" stroke="#3378b3" stroke-width="2.1" stroke-linejoin="round"/>
<line x1="515.70" y1="250.70" x2="520.00" y2="250.70" stroke="#8a8a8a" stroke-width="0.8"/>
<text x="497.72" y="254.10" font-size="9.2" fill="#3a3a3a" textLength="13.26" lengthAdjust="spacingAndGlyphs">0.2</text>
<line x1="515.70" y1="298.20" x2="520.00" y2="298.20" stroke="#8a8a8a" stroke-width="0.8"/>
<text x="504.54" y="301.60" font-size="9.2" fill="#3a3a3a" textLength="6.37" lengthAdjust="spacingAndGlyphs">0</text>
<line x1="515.70" y1="345.70" x2="520.00" y2="345.70" stroke="#8a8a8a" stroke-width="0.8"/>
<text x="493.03" y="349.10" font-size="9.2" fill="#3a3a3a" textLength="18.03" lengthAdjust="spacingAndGlyphs">-0.2</text>
<line x1="527.30" y1="392.40" x2="527.30" y2="396.70" stroke="#8a8a8a" stroke-width="0.8"/>
<text x="524.58" y="408.40" font-size="9.2" fill="#3a3a3a" textLength="5.79" lengthAdjust="spacingAndGlyphs">0</text>
<line x1="565.30" y1="392.40" x2="565.30" y2="396.70" stroke="#8a8a8a" stroke-width="0.8"/>
<text x="562.64" y="408.40" font-size="9.2" fill="#3a3a3a" textLength="5.74" lengthAdjust="spacingAndGlyphs">3</text>
<line x1="603.20" y1="392.40" x2="603.20" y2="396.70" stroke="#8a8a8a" stroke-width="0.8"/>
<text x="600.48" y="408.40" font-size="9.2" fill="#3a3a3a" textLength="5.74" lengthAdjust="spacingAndGlyphs">6</text>
<line x1="641.10" y1="392.40" x2="641.10" y2="396.70" stroke="#8a8a8a" stroke-width="0.8"/>
<text x="638.38" y="408.40" font-size="9.2" fill="#3a3a3a" textLength="5.86" lengthAdjust="spacingAndGlyphs">9</text>
<line x1="679.10" y1="392.40" x2="679.10" y2="396.70" stroke="#8a8a8a" stroke-width="0.8"/>
<text x="674.92" y="408.40" font-size="9.2" fill="#3a3a3a" textLength="8.58" lengthAdjust="spacingAndGlyphs">12</text>
<text x="551.07" y="423.90" font-size="10.2" fill="#3a3a3a" textLength="102.56" lengthAdjust="spacingAndGlyphs">POP (people per km<tspan font-size="6.6" dy="-3.9">2</tspan><tspan dy="3.9">)</tspan></text>
<g transform="rotate(-90)">
<text x="-315.04" y="487.00" font-size="10.8" fill="#3a3a3a" font-style="italic" textLength="8.64" lengthAdjust="spacingAndGlyphs">H′</text>
</g>
<text x="477.52" y="232.80" font-size="15" fill="#111" font-weight="bold" textLength="9.50" lengthAdjust="spacingAndGlyphs">e</text>
</svg>
</body></html>
